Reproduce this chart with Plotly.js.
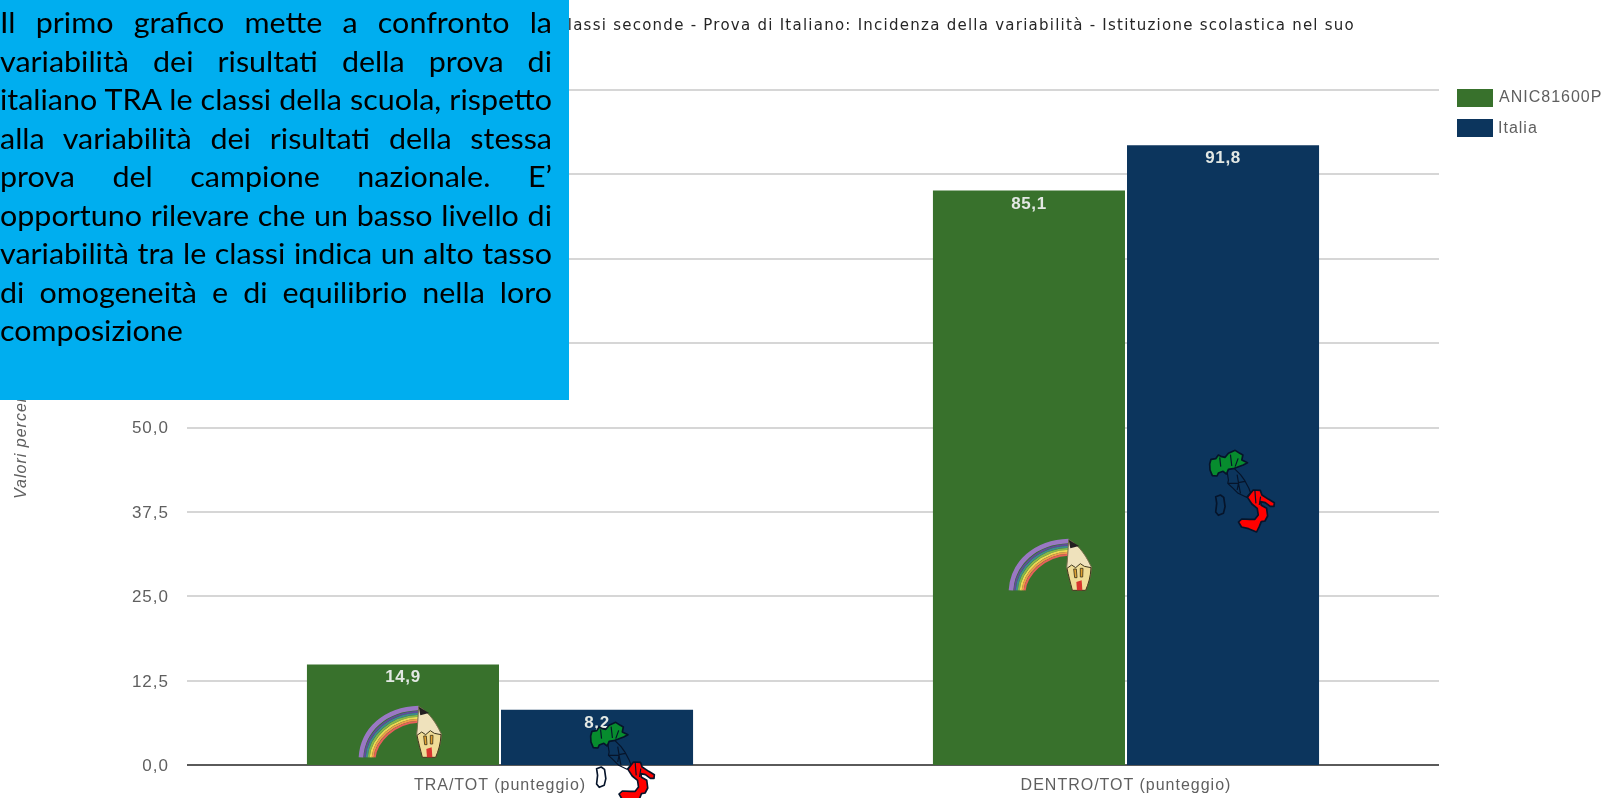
<!DOCTYPE html>
<html>
<head>
<meta charset="utf-8">
<script src="https://cdn.plot.ly/plotly-3.0.1.min.js"></script>
<style>
html,body{margin:0;padding:0;background:#fff;overflow:hidden}
#wrap{position:relative;width:1604px;height:798px;overflow:hidden}
#chart{position:absolute;left:0;top:0;width:1604px;height:798px;filter:blur(0.45px)}
#chart .xtick text,#chart .ytick text,#chart .annotation-text{letter-spacing:1px}
#chart .gtitle{letter-spacing:1.25px}
#chart .bartext{letter-spacing:0.6px}
#note{position:absolute;left:0;top:0;width:569px;height:400px;background:#00aeef;color:#000;z-index:5;
 font-family:Lato,"Open Sans",sans-serif;font-size:29px;line-height:38.5px;box-sizing:border-box;padding-top:3px}
#note .inner{width:525.7px;transform:scaleX(1.05);transform-origin:left top}
#note .inner div{white-space:nowrap;text-align:justify;text-align-last:justify}
#note .inner div.last{text-align-last:left}
</style>
</head>
<body>
<div id="wrap">
<div id="chart"></div>
<div id="note"><div class="inner" id="noteInner"></div></div>
</div>
<script>
const categories = ["TRA/TOT (punteggio)", "DENTRO/TOT (punteggio)"];
const schoolName = "ANIC81600P";
const schoolValues = [14.9, 85.1];
const italyName = "Italia";
const italyValues = [8.2, 91.8];
const yTicks = [0, 12.5, 25, 37.5, 50, 62.5, 75, 87.5, 100];
const yTickLabels = ["0,0", "12,5", "25,0", "37,5", "50,0", "", "", "", ""];
const chartTitle = "Classi seconde - Prova di Italiano: Incidenza della variabilità - Istituzione scolastica nel suo";
const yTitle = "Valori percentuali";
const noteLines = [
 "Il primo grafico mette a confronto la",
 "variabilità dei risultati della prova di",
 "italiano TRA le classi della scuola, rispetto",
 "alla variabilità dei risultati della stessa",
 "prova del campione nazionale. E’",
 "opportuno rilevare che un basso livello di",
 "variabilità tra le classi indica un alto tasso",
 "di omogeneità e di equilibrio nella loro",
 "composizione"
];
const green = "#38712c", navy = "#0c355d";

document.getElementById("noteInner").innerHTML = noteLines.map((l,i)=>
  '<div'+(i===noteLines.length-1?' class="last"':'')+'>'+l+'</div>').join("");

const L=187,R=1439,T=88,B=765,W=1604,H=798;
const px=x=>(x-L)/(R-L), py=y=>(B-y)/(B-T);

function band(d,w,c){
  return `<path d="M${25+d} 180 C${30+d} ${92+d*0.9}, ${100+d*0.6} ${28+d}, 205 ${25+d}" fill="none" stroke="${c}" stroke-width="${w}"/>`;
}
const pencilSvg = `<svg xmlns="http://www.w3.org/2000/svg" viewBox="20 20 255 165" width="255" height="165">`+
 band(7,14,"#9a78c4")+band(18,6,"#5f4c9c")+band(24,6,"#3f8a8f")+band(30,6,"#86b84c")+band(36,6,"#ecd955")+band(42,6,"#f09c4c")+band(48,6,"#e8605a")+
 `<path d="M205 28 C225 38 250 60 273 110 C272 140 264 160 256 180 L216 180 C210 155 204 135 199 112 C202 85 203 60 205 28 Z" fill="#efe2bc" stroke="#77704e" stroke-width="3"/>`+
 `<path d="M205 28 L236 47 L210 54 Z" fill="#231f20"/>`+
 `<path d="M200 114 L214 104 L226 112 L240 100 L252 108 L272 112 C271 140 264 160 256 180 L216 180 C210 155 204 135 200 114 Z" fill="#efdc96" stroke="#3e361c" stroke-width="3"/>`+
 `<path d="M228 155 L244 150 L246 180 L230 180 Z" fill="#d8352e"/>`+
 `<path d="M220 116 L228 116 L230 142 L223 142 Z M240 114 L248 114 L247 140 L240 140 Z" fill="#e0a030" stroke="#3e361c" stroke-width="2.5"/>`+
 `</svg>`;
const ink='stroke="#06142a" stroke-width="5" stroke-linejoin="round"';
const thin='stroke="#06142a" stroke-width="3.5" stroke-linejoin="round"';
const italySvg = `<svg xmlns="http://www.w3.org/2000/svg" viewBox="25 27 203 252" width="203" height="252">`+
 `<path d="M82 95 L86 120 L84 130 L100 145 L115 160 L140 172 L152 158 L147 145 L135 122 L122 104 L100 82 M112 104 L116 128 L135 124 M84 130 L116 130 L122 160 M116 130 L112 150" fill="none" ${thin}/>`+
 `<path d="M30 72 L34 58 L48 56 L56 45 L66 50 L76 52 L86 40 L106 31 L120 40 L129 45 L126 60 L143 68 L130 75 L112 82 L100 86 L86 88 L80 102 L70 94 L56 99 L52 108 L38 107 L31 90 Z" fill="#078c2e" ${ink}/>`+
 `<path d="M60 52 L63 80 M92 44 L96 78 M115 55 L106 80" fill="none" ${thin}/>`+
 `<path d="M143 172 L152 160 L160 150 L181 151 L186 165 L206 178 L223 188 L222 199 L211 199 L196 188 L182 185 L184 196 L200 205 L203 228 L195 243 L184 245 L178 260 L170 276 L146 266 L125 261 L116 246 L126 237 L150 238 L165 238 L175 225 L172 205 L156 192 Z" fill="#ff0000" ${ink}/>`+
 `<path d="M165 152 L168 190 M182 170 L178 195" fill="none" ${thin}/>`+
 `<path d="M48 170 L62 165 L72 172 L76 200 L71 220 L56 226 L48 216 L51 190 Z" fill="none" ${ink}/>`+
 `</svg>`;
const uri=s=>"data:image/svg+xml;charset=utf-8,"+encodeURIComponent(s);
function img(s,x0,y0,w,h){
  return {source:uri(s),xref:"paper",yref:"paper",x:px(x0),y:py(y0),sizex:w/(R-L),sizey:h/(B-T),
    xanchor:"left",yanchor:"top",sizing:"stretch",layer:"above"};
}

const labelFont={family:"Liberation Sans, Arial, sans-serif",size:17,color:"#e3e8e4",weight:700};
function barTrace(name,values,color){
  return {type:"bar",name:name,x:categories,y:values,marker:{color:color,line:{width:0}},
    text:values.map(v=>v.toFixed(1).replace(".",",")),textposition:"inside",insidetextanchor:"end",textangle:0,
    textfont:labelFont,constraintext:"none",cliponaxis:false,hoverinfo:"x+y"};
}
const grey="#5f5f5f", font="Liberation Sans, Arial, sans-serif";
const layout={
  width:W,height:H,autosize:false,separators:",.",showlegend:false,
  paper_bgcolor:"#fff",plot_bgcolor:"#fff",
  margin:{l:L,r:W-R,t:T,b:H-B,pad:0},
  barmode:"group",bargap:0.38,bargroupgap:0.0103,
  title:{text:chartTitle,xref:"container",yref:"container",x:556/W,xanchor:"left",y:1-25/H,yanchor:"middle",
    font:{family:"DejaVu Sans, sans-serif",size:15,color:"#262626"}},
  xaxis:{type:"category",tickfont:{family:font,size:16,color:grey},showgrid:false,ticks:"",ticklabelstandoff:8,
    showline:false,zeroline:false,fixedrange:true},
  yaxis:{range:[0,100.3],tickmode:"array",tickvals:yTicks,ticktext:yTickLabels,
    tickfont:{family:font,size:17,color:grey},gridcolor:"#d6d6d6",gridwidth:2,zeroline:true,zerolinecolor:"#5a5a5a",zerolinewidth:2,
    ticks:"",ticklabelstandoff:17,showline:false,fixedrange:true,automargin:false},
  shapes:[
    {type:"rect",xref:"paper",yref:"paper",x0:px(1457),x1:px(1493),y0:py(107),y1:py(89),fillcolor:green,line:{width:0}},
    {type:"rect",xref:"paper",yref:"paper",x0:px(1457),x1:px(1493),y0:py(137),y1:py(119),fillcolor:navy,line:{width:0}}
  ],
  annotations:[
    {text:schoolName,xref:"paper",yref:"paper",x:px(1502),y:py(96),xanchor:"left",yanchor:"middle",showarrow:false,font:{family:font,size:16,color:grey}},
    {text:italyName,xref:"paper",yref:"paper",x:px(1499),y:py(127),xanchor:"left",yanchor:"middle",showarrow:false,font:{family:font,size:16,color:grey}},
    {text:"<i>"+yTitle+"</i>",xref:"paper",yref:"paper",x:px(20),y:py(428),xanchor:"center",yanchor:"middle",textangle:-90,showarrow:false,font:{family:font,size:16,color:grey}}
  ],
  images:[
    img(pencilSvg,357,704,85,55),img(pencilSvg,1007,537,85,55),
    img(italySvg,589,721,67,84),img(italySvg,1208,449,68,84)
  ]
};
Plotly.newPlot("chart",[barTrace(schoolName,schoolValues,green),barTrace(italyName,italyValues,navy)],layout,{displayModeBar:false,responsive:false,staticPlot:true});
</script>
</body>
</html>
